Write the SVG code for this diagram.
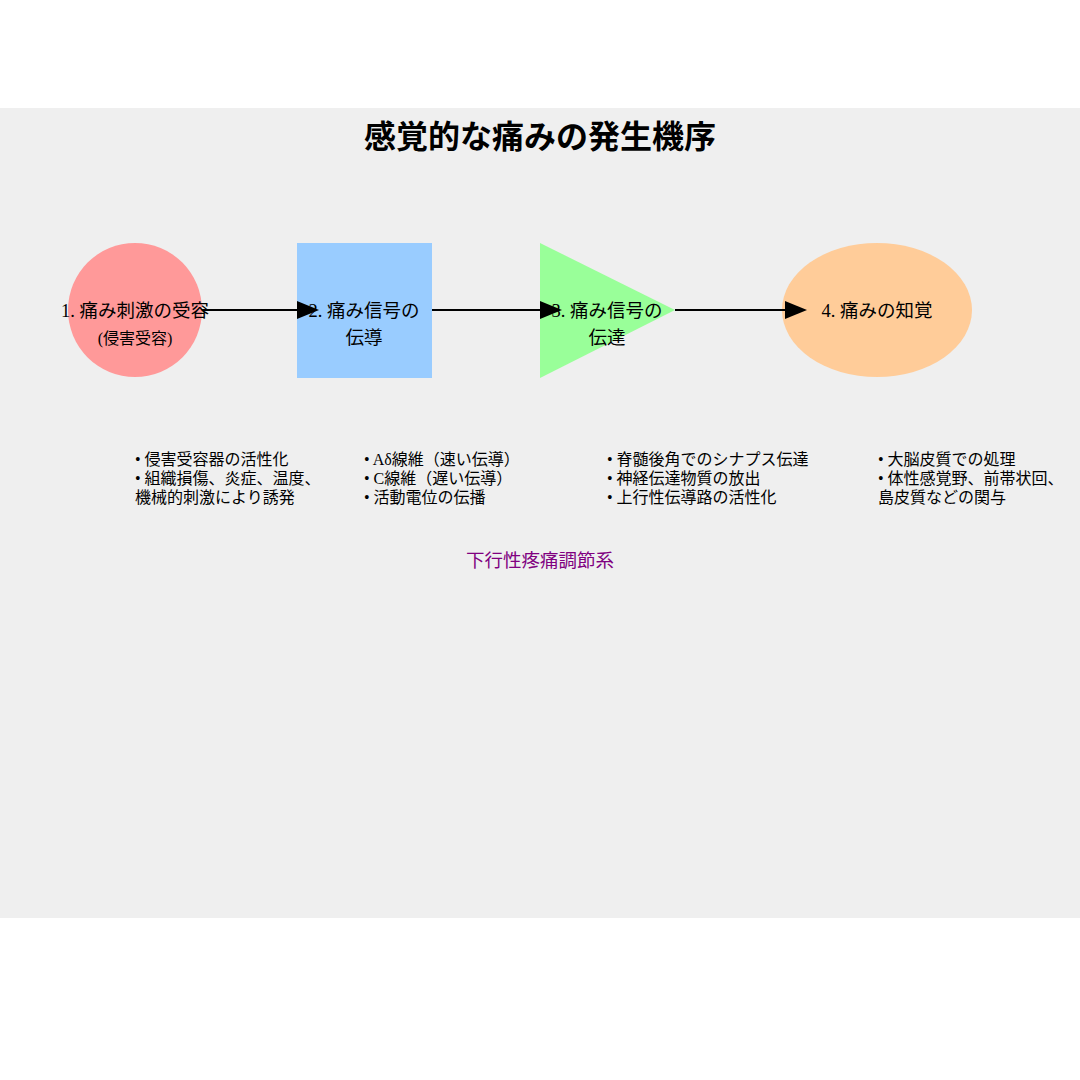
<svg xmlns="http://www.w3.org/2000/svg" width="1080" height="1080" viewBox="0 0 1080 1080">
<style>
text{font-family:"Liberation Serif","Noto Sans CJK JP",serif;fill:#000}
.lbl{font-size:18.5px;text-anchor:middle}
.sub{font-size:16px;text-anchor:middle}
.bul{font-size:16px}
.title{font-size:32px;font-weight:bold;text-anchor:middle}
.conn{stroke:#000;stroke-width:2;fill:none}
</style>
<defs>
<marker id="ah" markerWidth="11" markerHeight="9" refX="0" refY="4.5" orient="auto" markerUnits="strokeWidth">
<polygon points="0 0, 11 4.5, 0 9" fill="#000"/>
</marker>
</defs>
<rect x="0" y="108" width="1080" height="810" fill="#efefef"/>
<text class="title" x="540" y="148">感覚的な痛みの発生機序</text>
<g id="node1">
<circle cx="135" cy="310" r="67" fill="#ff9999"/>
<text class="lbl" x="135" y="317">1. 痛み刺激の受容</text>
<text class="sub" x="135" y="344">(侵害受容)</text>
</g>
<g id="node2">
<rect x="297" y="243" width="135" height="135" fill="#99ccff"/>
<text class="lbl" x="364" y="317">2. 痛み信号の</text>
<text class="lbl" x="364" y="344">伝導</text>
</g>
<g id="node3">
<polygon points="540,243 675,310 540,378" fill="#99ff99"/>
<text class="lbl" x="607" y="317">3. 痛み信号の</text>
<text class="lbl" x="607" y="344">伝達</text>
</g>
<g id="node4">
<ellipse cx="877" cy="310" rx="95" ry="67" fill="#ffcc99"/>
<text class="lbl" x="877" y="317">4. 痛みの知覚</text>
</g>
<g id="connectors">
<line class="conn" x1="202" y1="310" x2="297" y2="310" marker-end="url(#ah)"/>
<line class="conn" x1="432" y1="310" x2="540" y2="310" marker-end="url(#ah)"/>
<line class="conn" x1="675" y1="310" x2="785" y2="310" marker-end="url(#ah)"/>
</g>
<g id="notes1">
<text class="bul" x="135" y="465">• 侵害受容器の活性化</text>
<text class="bul" x="135" y="484">• 組織損傷、炎症、温度、</text>
<text class="bul" x="135" y="503">機械的刺激により誘発</text>
</g>
<g id="notes2">
<text class="bul" x="364" y="465">• Aδ線維（速い伝導）</text>
<text class="bul" x="364" y="484">• C線維（遅い伝導）</text>
<text class="bul" x="364" y="503">• 活動電位の伝播</text>
</g>
<g id="notes3">
<text class="bul" x="607" y="465">• 脊髄後角でのシナプス伝達</text>
<text class="bul" x="607" y="484">• 神経伝達物質の放出</text>
<text class="bul" x="607" y="503">• 上行性伝導路の活性化</text>
</g>
<g id="notes4">
<text class="bul" x="878" y="465">• 大脳皮質での処理</text>
<text class="bul" x="878" y="484">• 体性感覚野、前帯状回、</text>
<text class="bul" x="878" y="503">島皮質などの関与</text>
</g>
<text x="540" y="567" style="font-size:18.5px;text-anchor:middle;fill:#800080">下行性疼痛調節系</text>
</svg>
